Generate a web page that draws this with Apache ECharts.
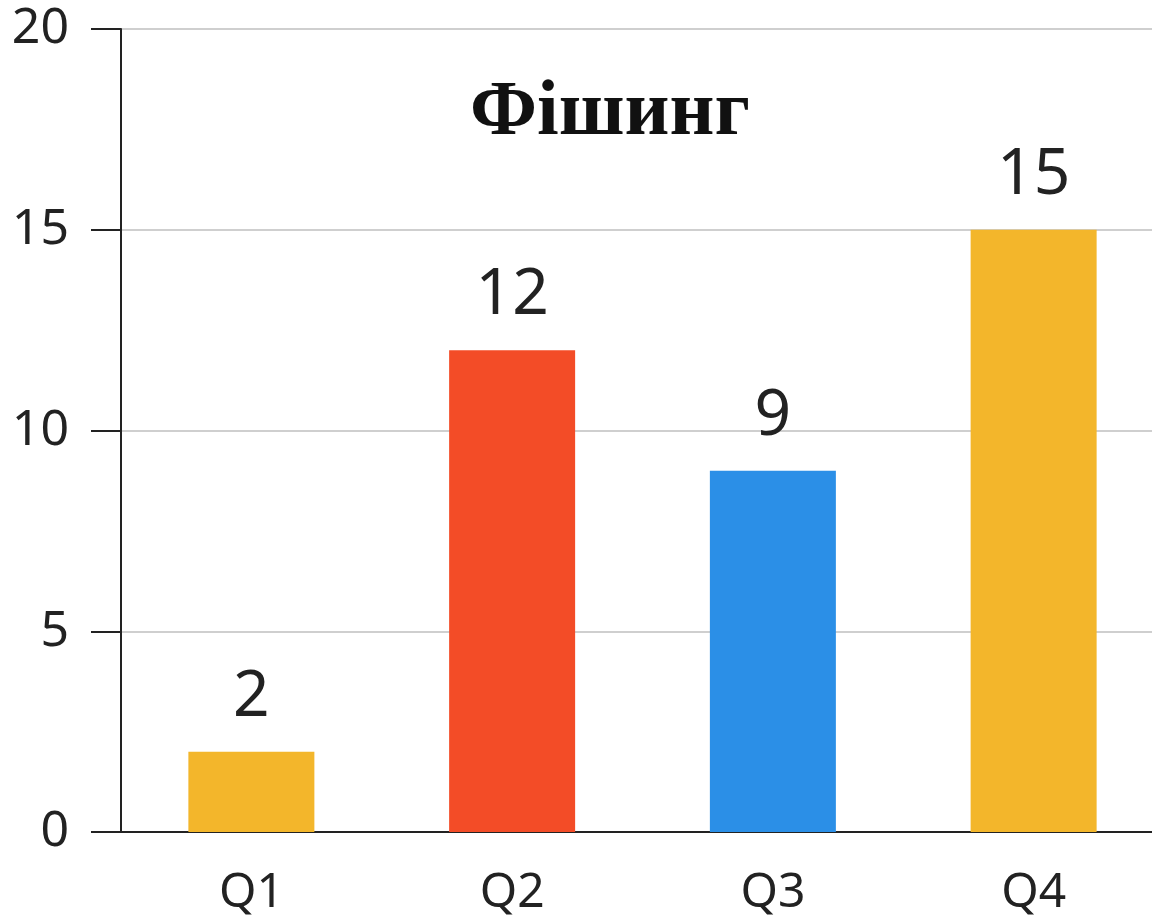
<!DOCTYPE html>
<html>
<head>
<meta charset="utf-8">
<style>
  html, body { margin: 0; padding: 0; background: #ffffff; }
  #chart { width: 1152px; height: 920px; }
</style>
<script src="https://cdn.jsdelivr.net/npm/echarts@6/dist/echarts.min.js"></script>
</head>
<body>
<div id="chart"></div>
<script>
const chartTitle = "Фішинг";
const quarters = ["Q1", "Q2", "Q3", "Q4"];
const incidents = [2, 12, 9, 15];
const barColors = ["#F3B62B", "#F34C27", "#2B8FE7", "#F3B62B"];
const yTicks = { min: 0, max: 20, interval: 5 };

const chart = echarts.init(document.getElementById("chart"));

chart.setOption({
  animation: false,
  title: {
    text: chartTitle,
    left: 465,
    top: 70,
    textStyle: {
      fontFamily: "Liberation Serif",
      fontWeight: "bold",
      fontSize: 78,
      color: "#111111",
    },
  },
  grid: {
    left: 121,
    right: -12,
    top: 29,
    bottom: 88,
    containLabel: false,
    outerBoundsMode: "none",
  },
  xAxis: {
    type: "category",
    data: quarters,
    axisLine: { lineStyle: { color: "#222222", width: 2 } },
    axisTick: { alignWithLabel: true, length: 30, lineStyle: { color: "#222222", width: 2 } },
    axisLabel: {
      color: "#222222",
      fontFamily: "Noto Sans",
      fontSize: 48,
      margin: 37,
    },
  },
  yAxis: {
    type: "value",
    min: yTicks.min,
    max: yTicks.max,
    interval: yTicks.interval,
    axisLine: { show: true, lineStyle: { color: "#222222", width: 2 } },
    axisTick: { show: true, length: 30, lineStyle: { color: "#222222", width: 2 } },
    axisLabel: {
      color: "#222222",
      fontFamily: "Noto Sans",
      fontSize: 50,
      margin: 52,
    },
    splitLine: { lineStyle: { color: "#cfcfcf", width: 2 } },
  },
  series: [
    {
      type: "bar",
      barWidth: 126,
      data: incidents.map((v, i) => ({ value: v, itemStyle: { color: barColors[i] } })),
      label: {
        show: true,
        position: "top",
        distance: 22,
        color: "#222222",
        fontFamily: "Noto Sans",
        fontSize: 64,
      },
    },
  ],
});
</script>
</body>
</html>
